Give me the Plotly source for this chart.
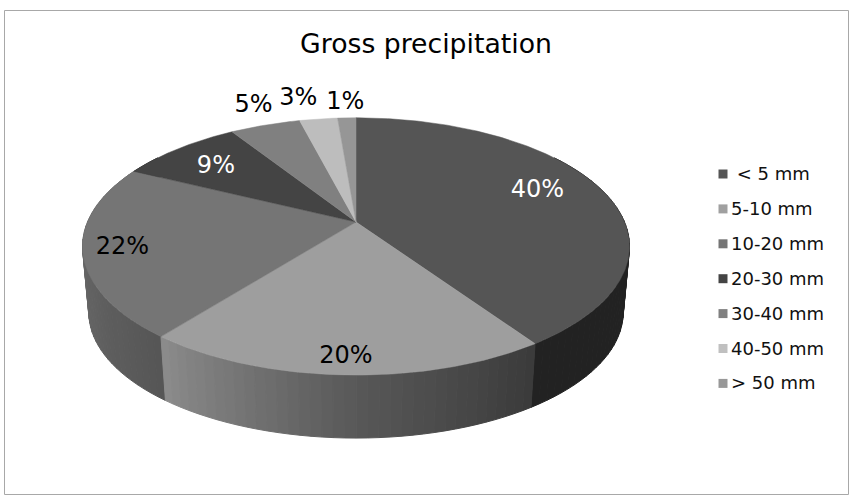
import math
import plotly.graph_objects as go

categories = [" < 5 mm", "5-10 mm", "10-20 mm", "20-30 mm", "30-40 mm", "40-50 mm", "> 50 mm"]
shares = [40.5, 20.1, 21.7, 8.7, 5.0, 2.7, 1.3]
pct_labels = ["40%", "20%", "22%", "9%", "5%", "3%", "1%"]
title_text = "Gross precipitation"

top_colors = ["#555555", "#9e9e9e", "#757575", "#444444", "#808080", "#bdbdbd", "#969696"]
legend_colors = ["#555555", "#a0a0a0", "#757575", "#444444", "#808080", "#c0c0c0", "#989898"]
label_colors = ["white", "black", "black", "white", "black", "black", "black"]
label_radius = [0.74, 0.90, 0.86, 0.77, 1.278, 1.275, 1.21]
label_nudge_x = [-1, 0, 0, 0, 9, -12, 0]
label_nudge_y = [-5, 0, 2, 3, 3, 3, 3]
wall_stops = [
    [(0.0, 0x22), (1.0, 0x22)],
    [(0.0, 0x3a), (0.47, 0x58), (1.0, 0x8c)],
    [(0.0, 0x56), (0.6, 0x6a), (1.0, 0x70)],
    [(0.0, 0x30), (1.0, 0x30)],
    [(0.0, 0x50), (1.0, 0x50)],
    [(0.0, 0x80), (1.0, 0x80)],
    [(0.0, 0x60), (1.0, 0x60)],
]

CX, CY, A, B, K = 356.0, 222.0, 268.5, 124.0, 0.19
DROP_CY, DROP_S = 288.5, 0.977


def proj(a_deg, r=1.0):
    a = math.radians(a_deg)
    u, v = r * math.sin(a), -r * math.cos(a)
    w = 1 - K * v
    return CX + A * u / w, CY + B * v / w


def proj_low(a_deg):
    x, y = proj(a_deg)
    return CX + (x - CX) * DROP_S, DROP_CY + (y - CY) * DROP_S


def shade(stops, t):
    for (t0, c0), (t1, c1) in zip(stops, stops[1:]):
        if t <= t1:
            f = (t - t0) / (t1 - t0)
            g = round(c0 + (c1 - c0) * f)
            return f"rgb({g},{g},{g})"
    g = stops[-1][1]
    return f"rgb({g},{g},{g})"


total = sum(shares)
edges = [0.0]
for s in shares:
    edges.append(edges[-1] + 360.0 * s / total)

fig = go.Figure()

# side wall strips, back to front
strips = []
for i, s in enumerate(shares):
    a0, a1 = edges[i], edges[i + 1]
    lo, hi = max(a0, 55.0), min(a1, 305.0)
    if hi <= lo:
        continue
    n = max(1, int((hi - lo) / 2))
    for j in range(n):
        p0 = lo + (hi - lo) * j / n
        p1 = lo + (hi - lo) * (j + 1) / n
        mid = (p0 + p1) / 2
        strips.append((-math.cos(math.radians(mid)), p0, p1, shade(wall_stops[i], (mid - a0) / (a1 - a0))))
for _, p0, p1, col in sorted(strips):
    pts = [proj(p0), proj(p1), proj_low(p1), proj_low(p0), proj(p0)]
    fig.add_trace(go.Scatter(x=[p[0] for p in pts], y=[p[1] for p in pts], mode="lines",
                             fill="toself", fillcolor=col, line=dict(color=col, width=1),
                             hoverinfo="skip", showlegend=False))

# top face
for i, s in enumerate(shares):
    a0, a1 = edges[i], edges[i + 1]
    n = max(4, int((a1 - a0) * 2))
    arc = [proj(a0 + (a1 - a0) * j / n) for j in range(n + 1)]
    pts = [(CX, CY)] + arc + [(CX, CY)]
    fig.add_trace(go.Scatter(x=[p[0] for p in pts], y=[p[1] for p in pts], mode="lines",
                             fill="toself", fillcolor=top_colors[i],
                             line=dict(color=top_colors[i], width=0.5),
                             name=categories[i], hoverinfo="name", showlegend=False))

# percentage labels
lx, ly = [], []
for i in range(len(shares)):
    x, y = proj((edges[i] + edges[i + 1]) / 2, label_radius[i])
    lx.append(x + label_nudge_x[i])
    ly.append(y + label_nudge_y[i])
fig.add_trace(go.Scatter(x=lx, y=ly, mode="text", text=pct_labels, textposition="middle center",
                         textfont=dict(family="DejaVu Sans", size=24, color=label_colors),
                         hoverinfo="skip", showlegend=False))

# legend column
LEG_X, LEG_Y0, LEG_DY = 723, 174, 34.9
leg_y = [LEG_Y0 + LEG_DY * i for i in range(len(categories))]
fig.add_trace(go.Scatter(x=[LEG_X] * len(categories), y=leg_y, mode="markers",
                         marker=dict(symbol="square", size=9, color=legend_colors),
                         hoverinfo="skip", showlegend=False))
fig.add_trace(go.Scatter(x=[LEG_X + 8] * len(categories), y=[y + 1.5 for y in leg_y], mode="text", text=categories,
                         textposition="middle right",
                         textfont=dict(family="DejaVu Sans", size=18, color="#111111"),
                         hoverinfo="skip", showlegend=False))

fig.update_layout(
    width=855, height=500, margin=dict(l=0, r=0, t=0, b=0),
    paper_bgcolor="white", plot_bgcolor="white", showlegend=False,
    title=dict(text=title_text, x=426 / 855, y=1 - 44 / 500, xanchor="center", yanchor="middle",
               font=dict(family="DejaVu Sans", size=26.7, color="black")),
    xaxis=dict(range=[0, 855], visible=False, fixedrange=True),
    yaxis=dict(range=[500, 0], visible=False, fixedrange=True),
    shapes=[dict(type="rect", xref="x", yref="y", x0=4.5, y0=10.5, x1=848.5, y1=494.5,
                 line=dict(color="#a8a8a8", width=1), fillcolor="rgba(0,0,0,0)", layer="below")],
)
fig.write_html("out.html", config={"displayModeBar": False},
               post_script="document.body.style.margin='0';document.documentElement.style.overflow='hidden';")
